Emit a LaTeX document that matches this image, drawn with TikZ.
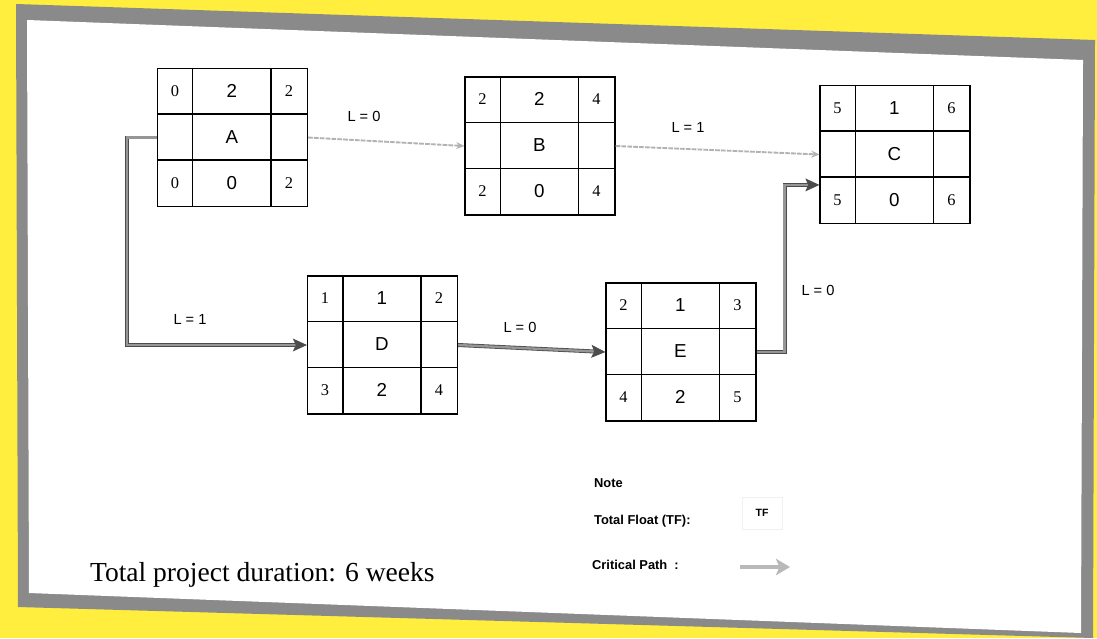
\documentclass[tikz,border=0pt]{standalone}
\usepackage{fontspec}
\setmainfont{Liberation Serif}
\setsansfont{Liberation Sans}
\usetikzlibrary{arrows.meta}

\definecolor{scanyellow}{RGB}{255,238,62}
\definecolor{scangray}{RGB}{138,138,138}
\definecolor{pathgray}{RGB}{150,150,150}

\tikzstyle{activity box}=[draw,line width=1pt,minimum width=4.5cm,
    minimum height=4.14cm,inner sep=0pt]
\tikzstyle{cell line}=[line width=1pt]
\tikzstyle{corner}=[font=\fontsize{14}{16}\selectfont]
\tikzstyle{centre}=[font=\sffamily\fontsize{16}{18}\selectfont]
\tikzstyle{lag}=[font=\sffamily\fontsize{12.5}{14}\selectfont]
\tikzstyle{legend}=[font=\sffamily\bfseries\fontsize{11}{13}\selectfont,anchor=west]
\tikzstyle{critical}=[draw=black!70,double=pathgray,double distance=2pt,
    line width=0.7pt,-{Stealth[length=12pt,width=11pt,inset=2.5pt]}]
\tikzstyle{lagline}=[gray!60,line width=1.6pt,dash pattern=on 4pt off 1pt,
    -{Stealth[length=7pt,width=6pt]}]
% activity node: position, name, ES, duration, EF, LS, TF, LF
\newcommand{\activity}[8]{
    \node[activity box] at (#1) (#2) {};
    \draw[cell line] (#2.north west) ++(36,0) -- ++(0,138);
    \draw[cell line] (#2.north west) ++(114,0) -- ++(0,138);
    \draw[cell line] (#2.north west) ++(0,46) -- ++(150,0);
    \draw[cell line] (#2.north west) ++(0,92) -- ++(150,0);
    \node[corner] at ([shift={(18,23)}]#2.north west) {#3};
    \node[centre] at ([shift={(75,23)}]#2.north west) {#4};
    \node[corner] at ([shift={(132,23)}]#2.north west) {#5};
    \node[centre] at ([shift={(75,69)}]#2.north west) {#2};
    \node[corner] at ([shift={(18,115)}]#2.north west) {#6};
    \node[centre] at ([shift={(75,115)}]#2.north west) {#7};
    \node[corner] at ([shift={(132,115)}]#2.north west) {#8};
}

\begin{document}
\begin{tikzpicture}[x=0.03cm,y=-0.03cm]
    \useasboundingbox (0,0) rectangle (1097,638);
    % scanned page
    \fill[scanyellow] (0,0) rectangle (1097,638);
    \fill[scangray] (16,4) -- (1095,40) -- (1093,638) -- (18,607) -- cycle;
    \fill[white] (27,20) -- (1083,60) -- (1081,633) -- (29,593) -- cycle;
    %
    \activity{232.5,137.5}{A}{0}{2}{2}{0}{0}{2}
    \activity{540,146}{B}{2}{2}{4}{2}{0}{4}
    \activity{895,154.5}{C}{5}{1}{6}{5}{0}{6}
    \activity{382.5,345}{D}{1}{1}{2}{3}{2}{4}
    \activity{681,352}{E}{2}{1}{3}{4}{2}{5}
    %
    \draw[lagline] (A.east) -- (B.west);
    \draw[lagline] (B.east) -- (C.west);
    \draw[critical] (A.west) -- ++(-30,0) |- (D.west);
    \draw[critical] (D.east) -- (E.west);
    \draw[critical] (E.east) -- ++(28,0) |- ([shift={(0,100)}]C.north west);
    %
    \node[lag] (lagAB) at (364,116) {L = 0};
    \node[lag] (lagBC) at (688,127) {L = 1};
    \node[lag] (lagAD) at (190,319) {L = 1};
    \node[lag] (lagDE) at (520,327) {L = 0};
    \node[lag] (lagEC) at (818,290) {L = 0};
    %
    \node[legend] (note) at (590,483) {Note};
    \node[legend] (tflabel) at (590,521) {Total Float (TF):};
    \node[draw=gray!12,minimum width=1.2cm,minimum height=0.95cm,
        font=\sffamily\bfseries\fontsize{9}{11}\selectfont] (tf) at (762,513) {TF};
    \node[legend] (cplabel) at (588,565) {Critical Path\ \ :};
    \coordinate (cpstart) at (740,567);
    \coordinate (cpend) at (790,567);
    \draw[gray!55,line width=2.6pt,-{Stealth[length=12pt,width=14pt,inset=3pt]}]
        (cpstart) -- (cpend);
    %
    \node[anchor=west,font=\fontsize{23.5}{28}\selectfont] (duration) at (86,575)
        {Total project duration: 6 weeks};
\end{tikzpicture}
\end{document}
